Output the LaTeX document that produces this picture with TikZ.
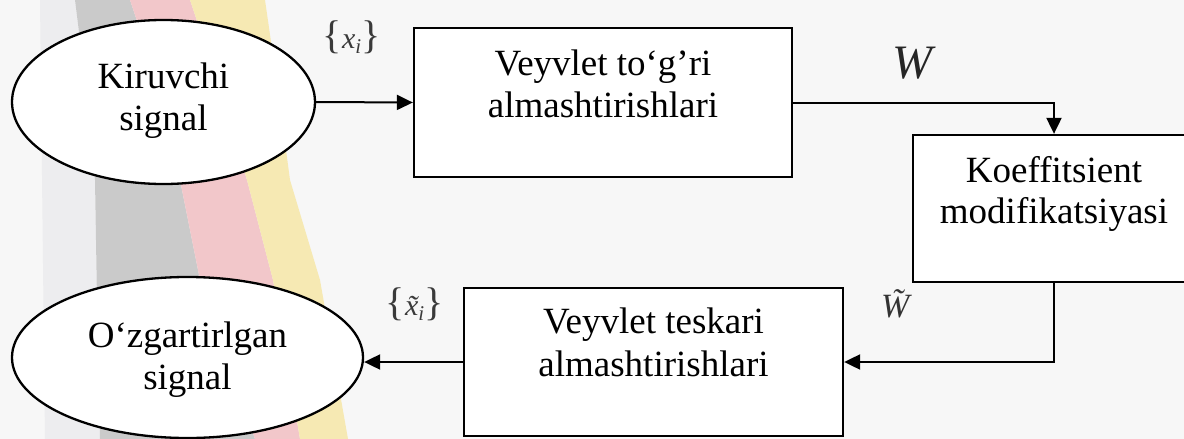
\documentclass[tikz,border=0pt]{standalone}
\usepackage{fontspec}
\setmainfont{Liberation Serif}[Ligatures={TeX,NoCommon}]
\usetikzlibrary{arrows.meta,shapes.geometric}
\definecolor{bg}{HTML}{F7F7F7}
\definecolor{bandlight}{HTML}{EDEDEF}
\definecolor{bandgray}{HTML}{CACACA}
\definecolor{bandpink}{HTML}{F2C7CA}
\definecolor{bandyellow}{HTML}{F6E9B3}
\definecolor{lblgray}{HTML}{3A3A3A}
\newcommand{\bigbr}[1]{{\fontsize{40}{44}\selectfont #1}}
\tikzset{
  boxnode/.style={draw=black, fill=white, line width=2.3pt, rectangle, inner sep=0pt},
  ovalnode/.style={draw=black, fill=white, line width=2.3pt, ellipse, inner sep=0pt},
  txt/.style={font=\fontsize{37}{42}\selectfont, inner sep=0pt, anchor=base},
  conn/.style={line width=2pt, -{Triangle[length=16pt,width=15pt]}},
  mlbl/.style={font=\fontsize{30}{34}\selectfont, text=lblgray, inner sep=0pt},
}
\begin{document}
\begin{tikzpicture}[x=1pt,y=-1pt]
\useasboundingbox (0,0) rectangle (1184,439);
% background
\fill[bg] (0,0) rectangle (1184,439);
\fill[bandlight] (40,0) -- (75,0) -- (85,80) -- (95,180) -- (97,300) -- (100,439) -- (45,439) -- cycle;
\fill[bandgray] (75,0) -- (130,0) -- (160,90) -- (180,180) -- (200,280) -- (255,439) -- (100,439) -- (97,300) -- (95,180) -- (85,80) -- cycle;
\fill[bandpink] (130,0) -- (190,0) -- (220,90) -- (247,180) -- (273,280) -- (300,439) -- (255,439) -- (200,280) -- (180,180) -- (160,90) -- cycle;
\fill[bandyellow] (190,0) -- (265,0) -- (278,90) -- (290,180) -- (320,280) -- (348,439) -- (300,439) -- (273,280) -- (247,180) -- (220,90) -- cycle;

% shapes
\node[ovalnode, minimum width=303pt, minimum height=164pt] (e1) at (163.5,102) {};
\node[ovalnode, minimum width=351pt, minimum height=161pt] (e2) at (187.5,357.5) {};
\node[boxnode, minimum width=378pt, minimum height=149pt] (b1) at (603,102.5) {};
\node[boxnode, minimum width=282pt, minimum height=147pt] (b2) at (1054,208.5) {};
\node[boxnode, minimum width=379pt, minimum height=148pt] (b3) at (653.5,362) {};

% texts
\node[txt] (t1a) at (163.5,88) {Kiruvchi};
\node[txt] (t1b) at (163.5,130) {signal};
\node[txt] (t2a) at (603,75) {Veyvlet to‘g’ri};
\node[txt] (t2b) at (603,117) {almashtirishlari};
\node[txt] (t3a) at (1054,182) {Koeffitsient};
\node[txt] (t3b) at (1054,223) {modifikatsiyasi};
\node[txt] (t4a) at (653.5,333) {Veyvlet teskari};
\node[txt] (t4b) at (653.5,376) {almashtirishlari};
\node[txt] (t5a) at (187.5,347) {O‘zgartirlgan};
\node[txt] (t5b) at (187.5,389) {signal};

% connectors
\draw[conn] (e1.east) -- (b1.west);
\draw[conn] (b1.east) -| (b2.north);
\draw[conn] (b2.south) |- (b3.east);
\draw[conn] (b3.west) -- (e2.east |- b3.west);

% labels
\node[mlbl] (lx) at (352,37) {\bigbr{\{}{\itshape x}\textsubscript{\itshape i}\bigbr{\}}};
\node[mlbl, font=\fontsize{48}{50}\selectfont, text=black!85] (lw) at (914,63) {\textit{W}};
\node[mlbl, font=\fontsize{34}{36}\selectfont, text=black!80] (lwt) at (902,304) {\textit{\~{W}}};
\node[mlbl] (lxt) at (415,304) {\bigbr{\{}{\itshape x^^^^0303}\textsubscript{\itshape i}\bigbr{\}}};
\end{tikzpicture}
\end{document}
